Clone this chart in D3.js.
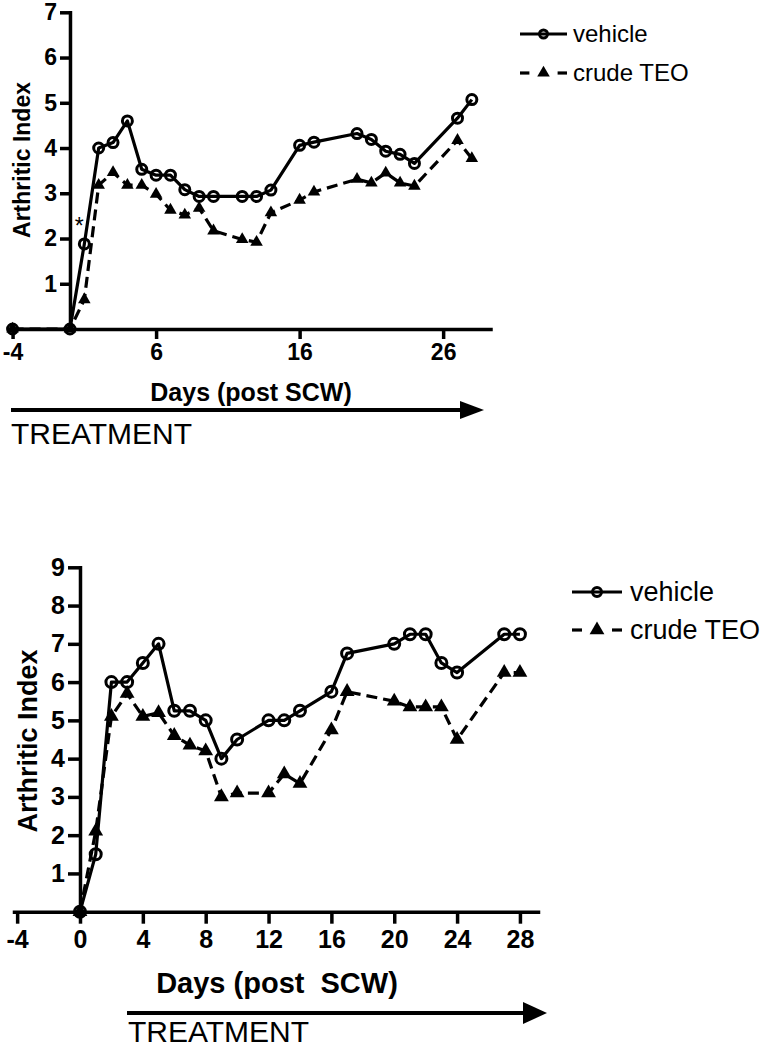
<!DOCTYPE html>
<html><head><meta charset="utf-8">
<script src="https://cdn.jsdelivr.net/npm/d3@7"></script>
<style>
body{margin:0;background:#fff;}
svg{display:block;}
text{font-family:"Liberation Sans",Arial,Helvetica,sans-serif;fill:#000;}
</style></head>
<body>
<script>
// ---------- DATA ----------
const seriesNames = ["vehicle", "crude TEO"];
const yAxisTitle = "Arthritic Index";

const topDays    = [-4,0,1,2,3,4,5,6,7,8,9,10,12,13,14,16,17,20,21,22,23,24,27,28];
const topVehicle = [0,0,1.88,4.0,4.12,4.6,3.53,3.4,3.4,3.08,2.93,2.93,2.93,2.93,3.07,4.06,4.13,4.32,4.19,3.93,3.86,3.66,4.66,5.07];
const topTEO     = [0,0,0.65,3.18,3.46,3.18,3.18,2.98,2.63,2.52,2.67,2.17,1.98,1.92,2.57,2.85,3.03,3.31,3.23,3.45,3.23,3.16,4.17,3.77];
const topXTicks  = [-4,6,16,26];
const topYTicks  = [1,2,3,4,5,6,7];
const topXTitle  = "Days (post SCW)";

const botDays    = [0,1,2,3,4,5,6,7,8,9,10,12,13,14,16,17,20,21,22,23,24,27,28];
const botVehicle = [0,1.5,6,6,6.5,7,5.25,5.25,5,4,4.5,5,5,5.25,5.75,6.75,7,7.25,7.25,6.5,6.25,7.25,7.25];
const botTEO     = [0,2.1,5.1,5.7,5.1,5.2,4.6,4.35,4.2,3.0,3.1,3.1,3.6,3.35,4.75,5.75,5.5,5.35,5.35,5.35,4.5,6.25,6.25];
const botXTicks  = [-4,0,4,8,12,16,20,24,28];
const botYTicks  = [1,2,3,4,5,6,7,8,9];
const botXTitle  = "Days (post  SCW)";

const treatmentLabel = "TREATMENT";
const starLabel = "*";

// ---------- DRAW ----------
const W = 769, H = 1049;
const svg = d3.select("body").append("svg").attr("width", W).attr("height", H);

function panel(cfg) {
  const g = svg.append("g");
  const x = d3.scaleLinear().domain(cfg.xDomain).range(cfg.xRange);
  const y = d3.scaleLinear().domain(cfg.yDomain).range(cfg.yRange);

  // axes
  const xAxis = g.append("g").attr("transform", `translate(0,${y(0)})`)
    .call(d3.axisBottom(x).tickValues(cfg.xTicks).tickSize(cfg.tick).tickSizeOuter(0).tickPadding(cfg.xPad).tickFormat(d3.format("d")));
  const yAxis = g.append("g").attr("transform", `translate(${x(0)},0)`)
    .call(d3.axisLeft(y).tickValues(cfg.yTicks).tickSize(cfg.tick).tickSizeOuter(0).tickPadding(cfg.yPad).tickFormat(d3.format("d")));
  [xAxis, yAxis].forEach(a => {
    a.select(".domain").attr("stroke", "#000").attr("stroke-width", cfg.axisW).attr("stroke-linecap", "square");
    a.selectAll(".tick line").attr("stroke", "#000").attr("stroke-width", cfg.axisW);
    a.selectAll(".tick text").attr("font-size", cfg.tickFont).attr("font-weight", "bold")
      .attr("font-family", '"Liberation Sans",Arial,sans-serif').attr("fill", "#000");
  });
  xAxis.selectAll(".tick text").text(d => d < 0 ? "-" + Math.abs(d) : d);

  // lines
  const line = d3.line().x(d => x(d[0])).y(d => y(d[1]));
  const vData = cfg.days.map((d, i) => [d, cfg.vehicle[i]]);
  const tData = cfg.days.map((d, i) => [d, cfg.teo[i]]);
  g.append("path").datum(vData).attr("d", line).attr("fill", "none").attr("stroke", "#000")
    .attr("stroke-width", cfg.lineW).attr("stroke-linejoin", "round");
  g.append("path").datum(tData).attr("d", line).attr("fill", "none").attr("stroke", "#000")
    .attr("stroke-width", cfg.lineW).attr("stroke-dasharray", cfg.dash);

  // markers
  g.selectAll("circle.v").data(vData).join("circle").attr("class", "v")
    .attr("cx", d => x(d[0])).attr("cy", d => y(d[1])).attr("r", cfg.r)
    .attr("fill", "none").attr("stroke", "#000").attr("stroke-width", cfg.markW);
  const tri = d3.symbol().type(d3.symbolTriangle).size(cfg.triSize);
  g.selectAll("path.t").data(tData).join("path").attr("class", "t")
    .attr("d", tri).attr("transform", d => `translate(${x(d[0])},${y(d[1])})`).attr("fill", "#000");

  // axis titles
  g.append("text").attr("transform", `translate(${cfg.yTitle[0]},${cfg.yTitle[1]}) rotate(-90)`)
    .attr("text-anchor", "middle").attr("dy", "0.35em").attr("font-weight", "bold")
    .attr("font-size", cfg.yTitleFont).text(yAxisTitle);
  g.append("text").attr("x", cfg.xTitle[0]).attr("y", cfg.xTitle[1]).attr("dy", "0.35em")
    .attr("text-anchor", "middle").attr("font-weight", "bold").attr("font-size", cfg.xTitleFont)
    .style("white-space", "pre").text(cfg.xTitleText);

  // treatment arrow
  const a = cfg.arrow;
  g.append("line").attr("x1", a.x1).attr("x2", a.head).attr("y1", a.y).attr("y2", a.y)
    .attr("stroke", "#000").attr("stroke-width", a.w);
  g.append("path").attr("d", `M${a.head},${a.y - a.hh}L${a.x2},${a.y}L${a.head},${a.y + a.hh}Z`).attr("fill", "#000");
  g.append("text").attr("x", a.tx).attr("y", a.ty).attr("font-size", a.tf).text(treatmentLabel);

  // legend
  const L = cfg.legend;
  const lg = g.append("g");
  lg.append("line").attr("x1", L.x1).attr("x2", L.x2).attr("y1", L.y1).attr("y2", L.y1)
    .attr("stroke", "#000").attr("stroke-width", cfg.lineW);
  lg.append("circle").attr("cx", (L.x1 + L.x2) / 2).attr("cy", L.y1).attr("r", cfg.r - 1)
    .attr("fill", "none").attr("stroke", "#000").attr("stroke-width", cfg.markW);
  lg.append("text").attr("x", L.tx).attr("y", L.y1).attr("dy", "0.35em").attr("font-size", L.f).text(seriesNames[0]);
  const seg = (L.x2 - L.x1) * 0.2;
  [[L.x1, L.x1 + seg], [L.x2 - seg, L.x2]].forEach(s => {
    lg.append("line").attr("x1", s[0]).attr("x2", s[1]).attr("y1", L.y2).attr("y2", L.y2)
      .attr("stroke", "#000").attr("stroke-width", cfg.lineW);
  });
  lg.append("path").attr("d", tri).attr("transform", `translate(${(L.x1 + L.x2) / 2},${L.y2})`).attr("fill", "#000");
  lg.append("text").attr("x", L.tx).attr("y", L.y2).attr("dy", "0.35em").attr("font-size", L.f).text(seriesNames[1]);

  return {g, x, y};
}

const topPanel = panel({
  xDomain: [-4.2, 29.3], xRange: [9.7, 490.5],
  yDomain: [0, 7], yRange: [329, 12.3],
  xTicks: topXTicks, yTicks: topYTicks,
  tick: 10, xPad: 5, yPad: 3, axisW: 3.5, tickFont: 23,
  days: topDays, vehicle: topVehicle, teo: topTEO,
  lineW: 3.2, dash: "11,6", r: 5, markW: 3, triSize: 68,
  yTitle: [22, 160], yTitleFont: 23,
  xTitle: [251, 392], xTitleFont: 25, xTitleText: topXTitle,
  arrow: {x1: 11, x2: 484, head: 460, y: 410, hh: 9, w: 4, tx: 11, ty: 444, tf: 30},
  legend: {x1: 520, x2: 567, y1: 34, y2: 73, tx: 573, f: 24}
});
topPanel.g.append("text").attr("x", topPanel.x(1) - 5).attr("y", 234).attr("text-anchor", "middle")
  .attr("font-size", 23).text(starLabel);

const bottomPanel = panel({
  xDomain: [-4.2, 29.15], xRange: [14, 538],
  yDomain: [0, 9], yRange: [911.7, 567.3],
  xTicks: botXTicks, yTicks: botYTicks,
  tick: 12, xPad: 7, yPad: 3, axisW: 3.5, tickFont: 25,
  days: botDays, vehicle: botVehicle, teo: botTEO,
  lineW: 3.2, dash: "11,6", r: 5.5, markW: 3, triSize: 95,
  yTitle: [28, 741], yTitleFont: 27,
  xTitle: [277, 983], xTitleFont: 29, xTitleText: botXTitle,
  arrow: {x1: 127, x2: 547, head: 523, y: 1013, hh: 11, w: 4, tx: 128, ty: 1042, tf: 30},
  legend: {x1: 572, x2: 622, y1: 592, y2: 630, tx: 630, f: 27}
});
</script>
</body></html>
